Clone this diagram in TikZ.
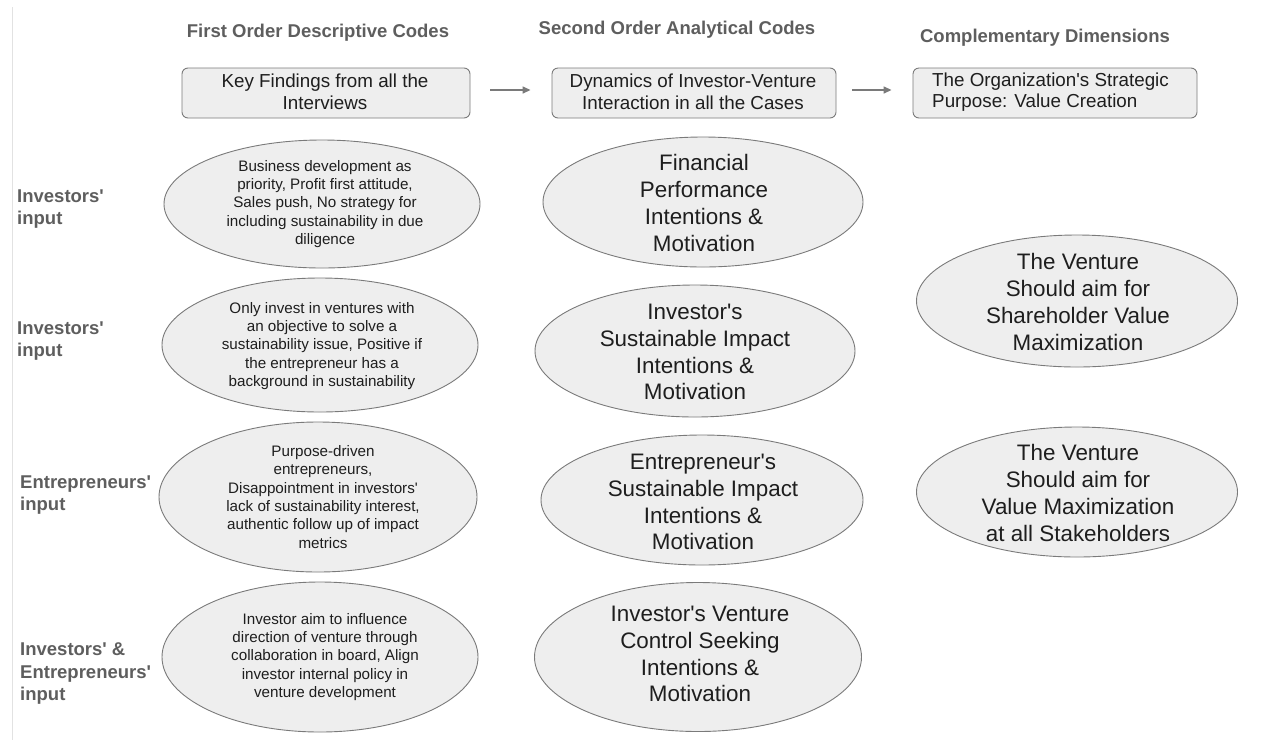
\documentclass[tikz,border=0pt]{standalone}
\usepackage{fontspec}
\setmainfont{Liberation Sans}
\usetikzlibrary{shapes.geometric,arrows.meta}

\definecolor{edgegray}{HTML}{7A7A7A}
\definecolor{fillgray}{HTML}{EEEEEE}
\definecolor{headgray}{HTML}{5E5E5E}
\definecolor{textdark}{HTML}{1E1E1E}
\definecolor{rulegray}{HTML}{E2E2E2}

% straight apostrophe
\newcommand{\ap}{\textquotesingle}

\tikzset{
  oval/.style 2 args={ellipse, draw=edgegray, fill=fillgray, line width=0.9pt,
    inner sep=0pt, minimum width=#1, minimum height=#2},
  headbox/.style 2 args={rectangle, rounded corners=6pt, draw=edgegray, fill=fillgray,
    line width=0.9pt, inner sep=0pt, minimum width=#1, minimum height=#2},
  coltitle/.style={text=headgray, font=\bfseries\fontsize{18.5}{22}\selectfont},
  rowlabel/.style={anchor=west, align=left, text=headgray,
    font=\bfseries\fontsize{18.5}{22.5}\selectfont, inner sep=0pt},
  boxtext/.style={align=center, text=textdark, font=\fontsize{18.8}{21.5}\selectfont, inner sep=0pt},
  smalltext/.style={align=center, text=textdark, font=\fontsize{15.2}{18.3}\selectfont, inner sep=0pt},
  bigtext/.style={align=center, text=textdark, font=\fontsize{22.4}{26.8}\selectfont, inner sep=0pt},
  flow/.style={draw=edgegray, line width=1.4pt, -{Triangle[length=8pt,width=7pt]}},
}

\begin{document}
\begin{tikzpicture}[x=1pt,y=-1pt]
\useasboundingbox (0,0) rectangle (1266,740);
\fill[white] (0,0) rectangle (1266,740);

% thin rule along the left margin
\draw[rulegray, line width=1pt] (12,7) -- (12,740);

% column titles
\node[coltitle] (t1) at (318,33) {First Order Descriptive Codes};
\node[coltitle] (t2) at (677,30) {Second Order Analytical Codes};
\node[coltitle] (t3) at (1045,38) {Complementary Dimensions};

% header boxes
\node[headbox={288pt}{50pt}] (h1) at (326,93) {};
\node[boxtext] (h1t) at (325,92) {Key Findings from all the\\Interviews};
\node[headbox={284pt}{50pt}] (h2) at (694,93) {};
\node[boxtext] (h2t) at (693,92) {Dynamics of Investor-Venture\\Interaction in all the Cases};
\node[headbox={284pt}{50pt}] (h3) at (1055,93) {};
\node[boxtext, align=left, anchor=west] (h3t) at (932,92) {The Organization\ap s Strategic\\Purpose: Value Creation};

\draw[flow] ([xshift=20pt,yshift=3pt]h1.east) -- ([xshift=-21pt,yshift=3pt]h2.west);
\draw[flow] ([xshift=16pt,yshift=3pt]h2.east) -- ([xshift=-21pt,yshift=3pt]h3.west);

% row labels
\node[rowlabel] (r1) at (17,209) {Investors\ap\\input};
\node[rowlabel] (r2) at (17,341) {Investors\ap\\input};
\node[rowlabel] (r3) at (20,495) {Entrepreneurs\ap\\input};
\node[rowlabel] (r4) at (20,674) {Investors\ap{} \&\\Entrepreneurs\ap\\input};

% first order codes
\node[oval={316pt}{128pt}] (e1) at (322,204) {};
\node[smalltext] (e1t) at (325,204) {Business development as\\priority, Profit first attitude,\\Sales push, No strategy for\\including sustainability in due\\diligence};
\node[oval={316pt}{134pt}] (e2) at (320,345) {};
\node[smalltext] (e2t) at (322,346) {Only invest in ventures with\\an objective to solve a\\sustainability issue, Positive if\\the entrepreneur has a\\background in sustainability};
\node[oval={318pt}{150pt}] (e3) at (318,497) {};
\node[smalltext] (e3t) at (323,497) {Purpose-driven\\entrepreneurs,\\Disappointment in investors\ap\\lack of sustainability interest,\\authentic follow up of impact\\metrics};
\node[oval={316pt}{150pt}] (e4) at (320,657) {};
\node[smalltext] (e4t) at (325,657) {Investor aim to influence\\direction of venture through\\collaboration in board, Align\\investor internal policy in\\venture development};

% second order codes
\node[oval={320pt}{130pt}] (m1) at (703,202) {};
\node[bigtext] (m1t) at (704,203) {Financial\\Performance\\Intentions \&\\Motivation};
\node[oval={320pt}{132pt}] (m2) at (695,351) {};
\node[bigtext] (m2t) at (695,352) {Investor\ap s\\Sustainable Impact\\Intentions \&\\Motivation};
\node[oval={322pt}{130pt}] (m3) at (702,500) {};
\node[bigtext] (m3t) at (703,502) {Entrepreneur\ap s\\Sustainable Impact\\Intentions \&\\Motivation};
\node[oval={327pt}{149pt}] (m4) at (698,657) {};
\node[bigtext] (m4t) at (700,654) {Investor\ap s Venture\\Control Seeking\\Intentions \&\\Motivation};

% complementary dimensions
\node[oval={321pt}{132pt}] (c1) at (1077,301) {};
\node[bigtext] (c1t) at (1078,302) {The Venture\\Should aim for\\Shareholder Value\\Maximization};
\node[oval={321pt}{130pt}] (c2) at (1077,492) {};
\node[bigtext] (c2t) at (1078,493) {The Venture\\Should aim for\\Value Maximization\\at all Stakeholders};
\end{tikzpicture}
\end{document}
